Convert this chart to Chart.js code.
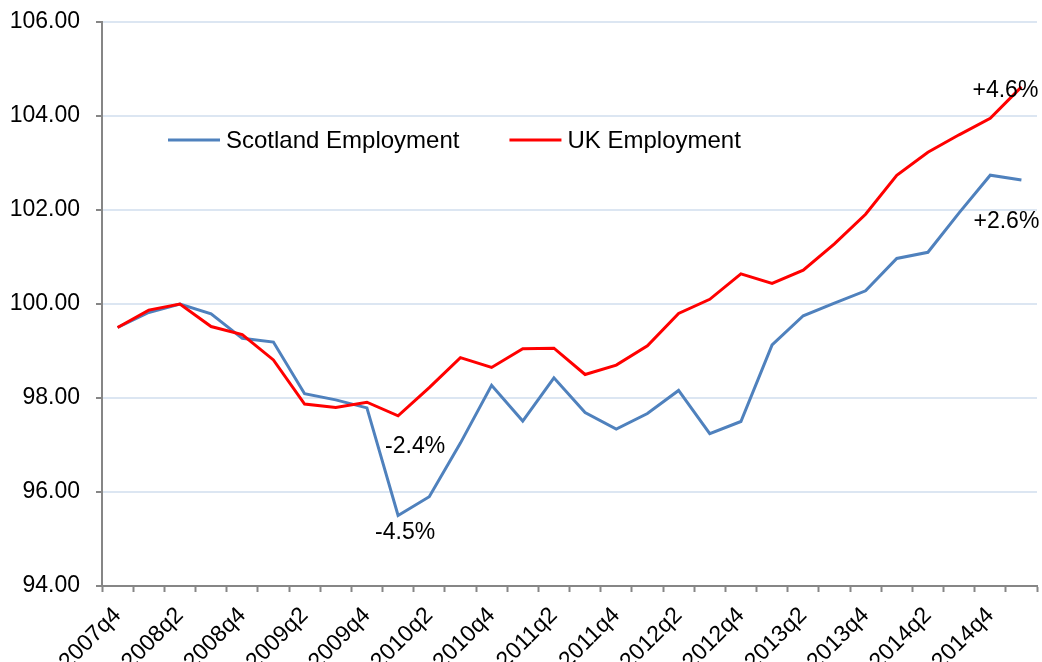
<!DOCTYPE html>
<html>
<head>
<meta charset="utf-8">
<title>Scotland and UK Employment</title>
<script src="https://cdn.jsdelivr.net/npm/chart.js@4.4.1/dist/chart.umd.min.js"></script>
<style>
  html, body { margin: 0; padding: 0; background: #ffffff; }
  #wrap { width: 1042px; height: 662px; }
</style>
</head>
<body>
<div id="wrap"><canvas id="chart" width="1042" height="662"></canvas></div>
<script>
// Quarterly employment index (2008q2 = 100)
const quarters = [
  '2007q4', '2008q1', '2008q2', '2008q3', '2008q4', '2009q1', '2009q2', '2009q3',
  '2009q4', '2010q1', '2010q2', '2010q3', '2010q4', '2011q1', '2011q2', '2011q3',
  '2011q4', '2012q1', '2012q2', '2012q3', '2012q4', '2013q1', '2013q2', '2013q3',
  '2013q4', '2014q1', '2014q2', '2014q3', '2014q4', '2015q1'
];

// Category labels printed under the axis
const shownTicks = [
  '2007q4', '2008q2', '2008q4', '2009q2', '2009q4', '2010q2', '2010q4', '2011q2',
  '2011q4', '2012q2', '2012q4', '2013q2', '2013q4', '2014q2', '2014q4'
];

const scotland = [
  99.50, 99.82, 100.00, 99.79, 99.27, 99.19, 98.09, 97.96,
  97.79, 95.50, 95.90, 97.04, 98.27, 97.51, 98.43, 97.69,
  97.34, 97.67, 98.16, 97.24, 97.50, 99.13, 99.75, 100.02,
  100.28, 100.97, 101.10, 101.94, 102.74, 102.64
];

const uk = [
  99.50, 99.87, 100.00, 99.52, 99.35, 98.81, 97.87, 97.80,
  97.91, 97.62, 98.22, 98.86, 98.65, 99.05, 99.06, 98.50,
  98.70, 99.11, 99.80, 100.10, 100.64, 100.44, 100.72, 101.28,
  101.91, 102.74, 103.23, 103.60, 103.95, 104.62
];

const yMin = 94;
const yMax = 106;
const yStep = 2;

// Percentage-change callouts: which series and which quarter they describe
const calloutText = ['+4.6%', '+2.6%', '-2.4%', '-4.5%'];
const calloutSeries = ['UK Employment', 'Scotland Employment', 'UK Employment', 'Scotland Employment'];
const calloutQuarter = ['2015q1', '2015q1', '2010q1', '2010q1'];

// Text placement relative to the point each callout describes
const calloutOffset = [[-16, 4], [-15, 42], [17, 31], [7, 17]];

const FONT_FAMILY = 'Arial, "Liberation Sans", sans-serif';
const FONT_SIZE = 23;
const LEGEND_FONT_SIZE = 24;
const AXIS_GREY = '#868686';
const GRID_BLUE = '#dce6f2';
const SCOT_BLUE = '#4f81bd';
const UK_RED = '#ff0000';

const insideLegend = {
  id: 'insideLegend',
  afterDraw(chart) {
    const ctx = chart.ctx;
    const area = chart.chartArea;
    ctx.save();
    ctx.font = LEGEND_FONT_SIZE + 'px ' + FONT_FAMILY;
    ctx.textBaseline = 'middle';
    ctx.textAlign = 'left';
    let x = area.left + 66;
    const y = area.top + 118;
    chart.data.datasets.forEach(ds => {
      ctx.strokeStyle = ds.borderColor;
      ctx.lineWidth = 3;
      ctx.beginPath();
      ctx.moveTo(x, y);
      ctx.lineTo(x + 52, y);
      ctx.stroke();
      ctx.fillStyle = '#000000';
      ctx.fillText(ds.label, x + 58, y + 1);
      x += 58 + ctx.measureText(ds.label).width + 50;
    });
    ctx.restore();
  }
};

const callouts = {
  id: 'callouts',
  afterDatasetsDraw(chart) {
    const ctx = chart.ctx;
    const xs = chart.scales.x;
    const ys = chart.scales.y;
    ctx.save();
    ctx.font = FONT_SIZE + 'px ' + FONT_FAMILY;
    ctx.textAlign = 'center';
    ctx.textBaseline = 'middle';
    ctx.fillStyle = '#000000';
    calloutText.forEach((txt, i) => {
      const ds = chart.data.datasets.find(d => d.label === calloutSeries[i]);
      const idx = quarters.indexOf(calloutQuarter[i]);
      const px = xs.getPixelForValue(idx);
      const py = ys.getPixelForValue(ds.data[idx]);
      ctx.fillText(txt, px + calloutOffset[i][0], py + calloutOffset[i][1]);
    });
    ctx.restore();
  }
};

new Chart(document.getElementById('chart'), {
  type: 'line',
  data: {
    labels: quarters,
    datasets: [
      {
        label: 'Scotland Employment',
        data: scotland,
        borderColor: SCOT_BLUE,
        backgroundColor: SCOT_BLUE,
        borderWidth: 3,
        pointRadius: 0,
        tension: 0,
        fill: false,
        order: 2
      },
      {
        label: 'UK Employment',
        data: uk,
        borderColor: UK_RED,
        backgroundColor: UK_RED,
        borderWidth: 3,
        pointRadius: 0,
        tension: 0,
        fill: false,
        order: 1
      }
    ]
  },
  options: {
    responsive: false,
    animation: false,
    devicePixelRatio: 1,
    layout: { padding: { left: 0, right: 5, top: 22, bottom: 0 } },
    plugins: {
      legend: { display: false },
      tooltip: { enabled: false }
    },
    scales: {
      x: {
        type: 'category',
        offset: true,
        grid: {
          offset: true,
          drawOnChartArea: false,
          drawTicks: true,
          tickLength: 6,
          tickColor: AXIS_GREY,
          tickWidth: 2
        },
        border: { display: true, color: AXIS_GREY, width: 2 },
        ticks: {
          autoSkip: false,
          maxRotation: 45,
          minRotation: 45,
          padding: 10,
          color: '#000000',
          font: { family: FONT_FAMILY, size: FONT_SIZE },
          callback: function (value) {
            const lbl = this.getLabelForValue(value);
            return shownTicks.includes(lbl) ? lbl : '';
          }
        },
        afterFit(scale) {
          scale.height = 76;
          scale.paddingLeft = 0;
          scale.paddingRight = 0;
        }
      },
      y: {
        min: yMin,
        max: yMax,
        grid: {
          color: GRID_BLUE,
          lineWidth: 2,
          drawTicks: true,
          tickLength: 6,
          tickColor: AXIS_GREY,
          tickWidth: 2
        },
        border: { display: true, color: AXIS_GREY, width: 2 },
        ticks: {
          stepSize: yStep,
          padding: 16,
          color: '#000000',
          font: { family: FONT_FAMILY, size: FONT_SIZE },
          callback: v => Number(v).toFixed(2)
        },
        afterFit(scale) {
          scale.width = 102;
          scale.paddingTop = 0;
          scale.paddingBottom = 0;
        }
      }
    }
  },
  plugins: [insideLegend, callouts]
});
</script>
</body>
</html>
